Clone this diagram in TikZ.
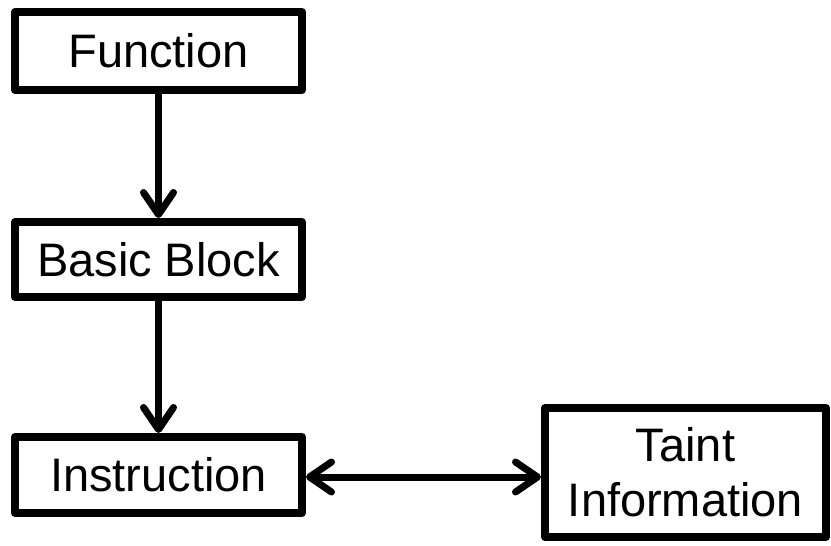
\documentclass[tikz,border=0pt]{standalone}
\usepackage{fontspec}
\setmainfont{Liberation Sans}
\usetikzlibrary{arrows.meta}
\begin{document}
\begin{tikzpicture}[x=1pt,y=-1pt,
  boxnode/.style={draw=black, line width=8pt, line join=round, fill=white,
    inner sep=0pt, font=\fontsize{47}{55}\selectfont, text=black, align=center},
  conn/.style={line width=7pt, line cap=round,
    arrows={-Straight Barb[length=22pt,width=30pt,round]}},
  biconn/.style={line width=7pt, line cap=round,
    arrows={Straight Barb[length=22pt,width=30pt,round]-Straight Barb[length=22pt,width=30pt,round]}}]
\useasboundingbox (0,0) rectangle (831,546);
\node[boxnode, minimum width=287pt, minimum height=78pt] (fn) at (158.5,51) {Function};
\node[boxnode, minimum width=287pt, minimum height=75pt] (bb) at (158.5,259.5) {Basic Block};
\node[boxnode, minimum width=287pt, minimum height=76pt] (ins) at (158.5,475) {Instruction};
\node[boxnode, minimum width=281pt, minimum height=129pt] (tai) at (685.5,472.5) {Taint\\Information};
\draw[conn] (fn.south) -- (bb.north);
\draw[conn] (bb.south) -- (ins.north);
\draw[biconn] ([yshift=-2pt]ins.east) -- ([yshift=-2pt]ins.east -| tai.west);
\end{tikzpicture}
\end{document}
